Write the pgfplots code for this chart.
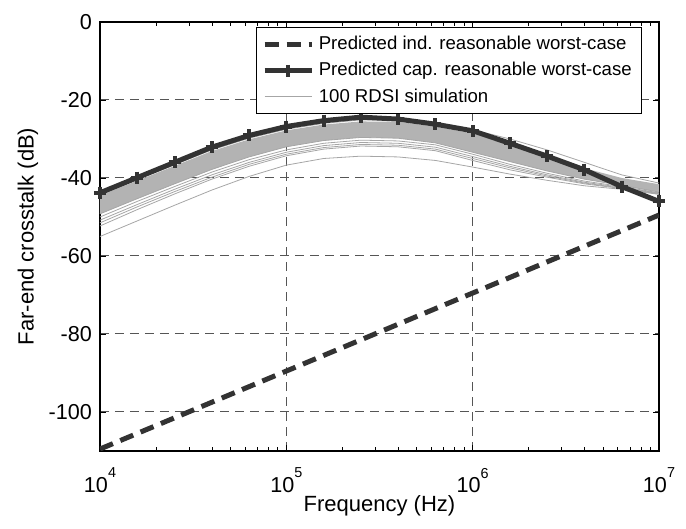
\documentclass[border=0pt]{standalone}
\usepackage{fontspec}
\setmainfont{Liberation Sans}
\usepackage{pgfplots}
\usepackage{pgfplotstable}
\pgfplotsset{compat=1.18}
\usepgfplotslibrary{fillbetween}

\definecolor{curvegray}{HTML}{333333}
\definecolor{simgray}{HTML}{B3B3B3}
\definecolor{simline}{HTML}{A6A6A6}
\definecolor{gridgray}{HTML}{555555}

\newcommand{\dec}[1]{10\raisebox{7.4pt}{\fontsize{7.2}{8}\selectfont #1}}

% RDSI simulations: top outlier, dense band edges, lower outliers
\pgfplotstableread{
x        top    dtop   dbot   l1     l2     l3     l4     l5
1e4      -44.3  -44.5  -49.2  -50.0  -50.8  -51.5  -52.3  -55.0
1.585e4  -40.4  -40.7  -45.3  -46.0  -46.8  -47.4  -48.1  -51.0
2.512e4  -36.6  -36.9  -41.5  -42.2  -42.9  -43.5  -44.1  -47.0
3.981e4  -32.8  -33.1  -37.8  -38.5  -39.2  -39.8  -40.3  -43.1
6.310e4  -29.8  -30.1  -34.6  -35.3  -36.0  -36.5  -37.0  -39.6
1e5      -27.5  -27.8  -32.0  -32.8  -33.4  -33.9  -34.3  -36.7
1.585e5  -26.0  -26.3  -30.4  -31.1  -31.7  -32.2  -32.6  -35.0
2.512e5  -25.1  -25.5  -29.6  -30.3  -30.9  -31.4  -31.8  -34.4
3.981e5  -25.2  -25.6  -29.8  -30.5  -31.1  -31.6  -32.0  -34.6
6.310e5  -26.3  -26.8  -31.0  -31.5  -32.1  -32.6  -33.0  -35.5
1e6      -27.6  -28.6  -33.4  -33.9  -34.5  -35.0  -35.5  -37.2
1.585e6  -30.0  -31.5  -35.8  -36.5  -37.0  -37.4  -37.9  -39.0
2.512e6  -32.8  -34.6  -38.2  -38.8  -39.2  -39.5  -39.8  -40.6
3.981e6  -36.0  -37.5  -40.3  -40.8  -41.1  -41.3  -41.5  -42.0
6.310e6  -39.2  -40.0  -41.9  -42.2  -42.4  -42.6  -42.7  -42.9
1e7      -41.3  -41.6  -43.6  -43.8  -43.9  -44.0  -44.1  -44.2
}\simtable

\pgfplotstableread{
x        y
1e4      -43.8
1.585e4  -39.9
2.512e4  -36.0
3.981e4  -32.1
6.310e4  -29.1
1e5      -26.8
1.585e5  -25.3
2.512e5  -24.4
3.981e5  -24.9
6.310e5  -26.2
1e6      -27.9
1.585e6  -31.1
2.512e6  -34.4
3.981e6  -37.9
6.310e6  -42.2
1e7      -46.0
}\captable

\begin{document}
\begin{tikzpicture}
\begin{semilogxaxis}[
  scale only axis,
  width=279.5pt,
  height=214.5pt,
  xmin=1e4, xmax=1e7,
  ymin=-110, ymax=0,
  xtick={1e4,1e5,1e6,1e7},
  xticklabels={\dec{4},\dec{5},\dec{6},\dec{7}},
  ytick={-100,-80,-60,-40,-20,0},
  /pgf/number format/assume math mode=true,
  tick align=inside,
  major tick length=3pt,
  minor tick length=1.8pt,
  tick style={black, line width=0.4pt},
  axis line style={line width=0.6pt},
  grid=major,
  major grid style={dashed, gridgray, line width=0.5pt, dash pattern=on 4.5pt off 3pt},
  tick label style={font=\fontsize{10.8}{12}\selectfont},
  yticklabel style={xshift=-0.5pt},
  xticklabel style={yshift=-5pt},
  label style={font=\fontsize{11}{13}\selectfont},
  xlabel={Frequency (Hz)},
  ylabel={Far-end crosstalk (dB)},
  xlabel style={at={(axis description cs:0.5,-0.128)}, anchor=center},
  ylabel style={at={(axis description cs:-0.129,0.5)}, anchor=center},
  legend style={at={(0.970,0.988)}, anchor=north east, draw=black, line width=0.5pt,
    font=\fontsize{9.3}{10}\selectfont, legend cell align=left,
    nodes={inner ysep=2.4pt, inner xsep=2pt}},
  legend image code/.code={\draw[mark repeat=2,mark phase=2,#1] plot coordinates {(0cm,0cm) (0.42cm,0cm) (0.84cm,0cm)};},
]
% gray simulation band
\addplot[name path=bandtop, draw=none, forget plot] table[x=x, y=dtop] {\simtable};
\addplot[name path=bandbot, draw=none, forget plot] table[x=x, y=dbot] {\simtable};
\addplot[simgray, forget plot] fill between[of=bandtop and bandbot];
\addplot[simline, line width=0.4pt, forget plot] table[x=x, y=top] {\simtable};
\addplot[simline, line width=0.4pt, forget plot] table[x=x, y=dbot] {\simtable};
\addplot[simline, line width=0.4pt, forget plot] table[x=x, y=l1] {\simtable};
\addplot[simline, line width=0.4pt, forget plot] table[x=x, y=l2] {\simtable};
\addplot[simline, line width=0.4pt, forget plot] table[x=x, y=l3] {\simtable};
\addplot[simline, line width=0.4pt, forget plot] table[x=x, y=l4] {\simtable};
\addplot[simline, line width=0.4pt, forget plot] table[x=x, y=l5] {\simtable};

\addplot[curvegray, line width=2.5pt, dash pattern=on 7pt off 4pt] coordinates {(1e4,-109.5) (1e7,-49.5)};
\addlegendentry{Predicted ind. reasonable worst-case}
\addplot[curvegray, line width=2.5pt, mark=+, mark size=3pt, mark options={solid, line width=2pt}] table[x=x, y=y] {\captable};
\addlegendentry{Predicted cap. reasonable worst-case}
\addlegendimage{simline, line width=0.4pt}
\addlegendentry{100 RDSI simulation}
\end{semilogxaxis}
\path ([shift={(-50pt,-39pt)}]current axis.south west) rectangle ([shift={(13.5pt,11pt)}]current axis.north east);
\end{tikzpicture}
\end{document}
